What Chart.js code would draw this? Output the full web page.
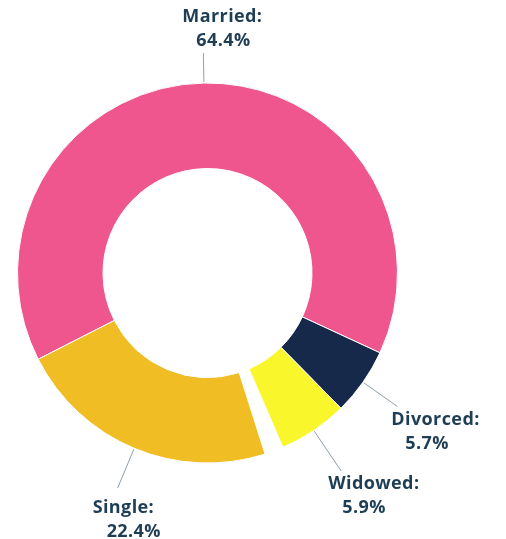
<!DOCTYPE html>
<html>
<head>
<meta charset="utf-8">
<script src="https://cdn.jsdelivr.net/npm/chart.js@4.4.0/dist/chart.umd.min.js"></script>
<style>
  html, body { margin: 0; padding: 0; background: #fff; }
  #wrap { width: 506px; height: 539px; position: relative; }
</style>
</head>
<body>
<div id="wrap"><canvas id="maritalChart"></canvas></div>
<script>
// categories and shares (%)
const categories = ['Married', 'Divorced', 'Widowed', '', 'Single'];
const shares = [64.4, 5.7, 5.9, 1.6, 22.4]; // the '' slice is the empty gap before Single
const sliceColors = ['#ee568d', '#16294b', '#f9f62b', 'rgba(0,0,0,0)', '#f0bd25'];

// where each label sits: leader length, then text offset from the leader end
const labelLayout = {
  Married:  { len: 30, dx: -21, dy: -31 },
  Divorced: { len: 42, dx: -6,  dy: 19 },
  Widowed:  { len: 49, dx: -13, dy: 18 },
  Single:   { len: 43, dx: -25, dy: 25 }
};

const leaderLabels = {
  id: 'leaderLabels',
  afterDatasetsDraw(chart) {
    const ctx = chart.ctx;
    const arcs = chart.getDatasetMeta(0).data;
    ctx.save();
    arcs.forEach((arc, i) => {
      const name = categories[i];
      if (!name) return;
      const lay = labelLayout[name];
      const p = arc.getProps(['x', 'y', 'startAngle', 'endAngle', 'outerRadius'], true);
      const mid = (p.startAngle + p.endAngle) / 2;
      const r0 = p.outerRadius + 1;
      const r1 = p.outerRadius + lay.len;
      const ex = p.x + Math.cos(mid) * r1;
      const ey = p.y + Math.sin(mid) * r1;

      ctx.strokeStyle = '#8e9ea9';
      ctx.lineWidth = 1;
      ctx.beginPath();
      ctx.moveTo(p.x + Math.cos(mid) * r0, p.y + Math.sin(mid) * r0);
      ctx.lineTo(ex, ey);
      ctx.stroke();

      ctx.fillStyle = '#1e3e55';
      ctx.font = '700 18px "Open Sans"';
      ctx.letterSpacing = '0.4px';
      ctx.textAlign = 'left';
      ctx.textBaseline = 'alphabetic';
      const tx = ex + lay.dx;
      const ty = ey + lay.dy;
      ctx.fillText(name + ':', tx, ty);
      ctx.fillText(shares[i].toFixed(1) + '%', tx + 14, ty + 24);
    });
    ctx.restore();
  }
};

new Chart(document.getElementById('maritalChart'), {
  type: 'doughnut',
  data: {
    labels: categories,
    datasets: [{
      data: shares,
      backgroundColor: sliceColors,
      borderColor: ['#fff', '#fff', '#fff', 'rgba(0,0,0,0)', '#fff'],
      borderWidth: [1, 1, 1, 0, 1],
      hoverOffset: 0
    }]
  },
  options: {
    responsive: true,
    maintainAspectRatio: false,
    animation: false,
    rotation: 243,
    cutout: '55%',
    radius: 190,
    layout: { padding: { left: 17, right: 108, top: 82, bottom: 75 } },
    plugins: {
      legend: { display: false },
      tooltip: { enabled: false }
    }
  },
  plugins: [leaderLabels]
});
</script>
</body>
</html>
